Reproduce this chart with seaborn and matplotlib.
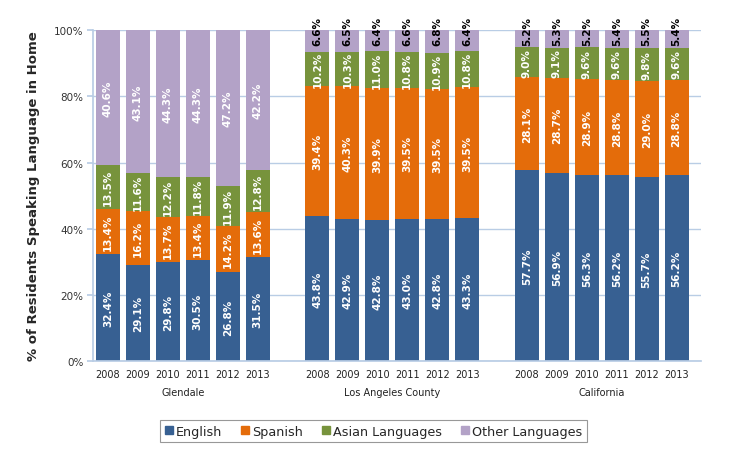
import numpy as np
import pandas as pd
import matplotlib
matplotlib.use("Agg")
import matplotlib.pyplot as plt
import seaborn as sns
from matplotlib.lines import Line2D

# Dados
anos = ["2008", "2009", "2010", "2011", "2012", "2013"]
regioes = ["Glendale", "Los Angeles County", "California"]
idiomas = ["English", "Spanish", "Asian Languages", "Other Languages"]

english = [32.4, 29.1, 29.8, 30.5, 26.8, 31.5,
           43.8, 42.9, 42.8, 43.0, 42.8, 43.3,
           57.7, 56.9, 56.3, 56.2, 55.7, 56.2]
spanish = [13.4, 16.2, 13.7, 13.4, 14.2, 13.6,
           39.4, 40.3, 39.9, 39.5, 39.5, 39.5,
           28.1, 28.7, 28.9, 28.8, 29.0, 28.8]
asian = [13.5, 11.6, 12.2, 11.8, 11.9, 12.8,
         10.2, 10.3, 11.0, 10.8, 10.9, 10.8,
         9.0, 9.1, 9.6, 9.6, 9.8, 9.6]
other = [40.6, 43.1, 44.3, 44.3, 47.2, 42.2,
         6.6, 6.5, 6.4, 6.6, 6.8, 6.4,
         5.2, 5.3, 5.2, 5.4, 5.5, 5.4]

cores = ["#376092", "#e46c0a", "#77933c", "#b3a2c7"]
cor_grade = "#b9cde5"

# posições: 6 barras por região, um espaço entre regiões
pos = [g * 7 + i for g in range(3) for i in range(6)]

series = [english, spanish, asian, other]
valores = np.array(series)
valores = valores / valores.sum(axis=0) * 100  # 100% empilhado
acumulado = np.cumsum(valores, axis=0)

df = pd.DataFrame({"pos": pos})
for k, nome in enumerate(idiomas):
    df[nome] = acumulado[k]

sns.set_theme(style="white")
plt.rcParams["font.family"] = ["DejaVu Sans"]

fig = plt.figure(figsize=(7.5, 4.52), dpi=100)
ax = fig.add_axes([0.124, 0.199, 0.81, 0.732])

# desenha do topo para baixo para simular o empilhamento
for k in range(3, -1, -1):
    sns.barplot(data=df, x="pos", y=idiomas[k], native_scale=True,
                color=cores[k], width=0.8, errorbar=None, ax=ax,
                saturation=1, linewidth=0)

# rótulos dentro das barras
for j, p in enumerate(pos):
    base = 0
    for k in range(4):
        v = valores[k, j]
        txt = f"{series[k][j]:.1f}%"
        if k == 3 and j >= 6:
            ax.text(p, 100, txt, rotation=90, ha="center", va="center",
                    color="black", fontsize=7.5, fontweight="bold", clip_on=False)
        else:
            ax.text(p, base + v / 2, txt, rotation=90, ha="center", va="center",
                    color="white", fontsize=7.5, fontweight="bold")
        base += v

ax.set_ylim(0, 100)
ax.set_xlim(-0.5, 19.8)
ax.set_yticks([0, 20, 40, 60, 80, 100])
ax.set_yticklabels(["0%", "20%", "40%", "60%", "80%", "100%"], fontsize=7.5, color="#333333")
ax.set_xticks(pos)
ax.set_xticklabels(anos * 3, fontsize=7, color="#222222")
ax.tick_params(axis="x", length=0, pad=6)
ax.tick_params(axis="y", length=4, color=cor_grade, pad=3, left=True)
ax.set_xlabel("")
ax.set_ylabel("% of Residents Speaking Language in Home", fontsize=9.5,
              fontweight="bold", labelpad=10)
ax.yaxis.grid(True, color=cor_grade, linewidth=1)
ax.set_axisbelow(True)
for lado in ["top", "right"]:
    ax.spines[lado].set_visible(False)
ax.spines["left"].set_color(cor_grade)
ax.spines["bottom"].set_color(cor_grade)

for g, nome in enumerate(regioes):
    ax.text(g * 7 + 2.5, -9.3, nome, ha="center", va="center", fontsize=7,
            color="#222222", transform=ax.transData, clip_on=False)

handles = [Line2D([], [], marker="s", linestyle="", markersize=5.5,
                  color=c) for c in cores]
leg = fig.legend(handles, idiomas, loc="center", bbox_to_anchor=(0.498, 0.044),
                 ncol=4, fontsize=9.2, frameon=True, fancybox=False,
                 handlelength=0.6, handletextpad=0.25, columnspacing=1.5,
                 borderpad=0.35)
leg.get_frame().set_edgecolor("#7f7f7f")
leg.get_frame().set_linewidth(0.8)

fig.savefig("out.png", dpi=100)
